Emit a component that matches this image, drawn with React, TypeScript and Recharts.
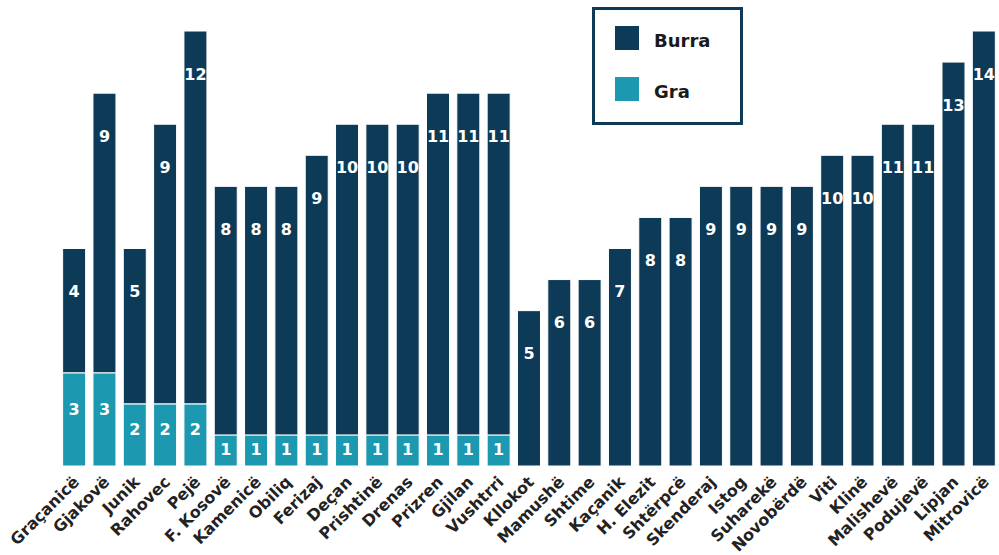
import { BarChart, Bar, XAxis, YAxis, LabelList } from "recharts";

const komunat = [
  "Graçanicë", "Gjakovë", "Junik", "Rahovec", "Pejë", "F. Kosovë", "Kamenicë", "Obiliq",
  "Ferizaj", "Deçan", "Prishtinë", "Drenas", "Prizren", "Gjilan", "Vushtrri", "Kllokot",
  "Mamushë", "Shtime", "Kaçanik", "H. Elezit", "Shtërpcë", "Skenderaj", "Istog", "Suharekë",
  "Novobërdë", "Viti", "Klinë", "Malishevë", "Podujevë", "Lipjan", "Mitrovicë",
];

const gra = [3, 3, 2, 2, 2, 1, 1, 1, 1, 1, 1, 1, 1, 1, 1, 0, 0, 0, 0, 0, 0, 0, 0, 0, 0, 0, 0, 0, 0, 0, 0];
const burra = [4, 9, 5, 9, 12, 8, 8, 8, 9, 10, 10, 10, 11, 11, 11, 5, 6, 6, 7, 8, 8, 9, 9, 9, 9, 10, 10, 11, 11, 13, 14];

const data = komunat.map((k, i) => ({ komuna: k, gra: gra[i], burra: burra[i] }));

const NAVY = "#0d3a56";
const TEAL = "#1c99b0";
const FONT = "'DejaVu Sans', Verdana, sans-serif";

const Tick = (props: any) => {
  const { x, y, payload } = props;
  return (
    <text
      x={x + 6}
      y={y + 9}
      transform={`rotate(-45, ${x + 6}, ${y + 9})`}
      textAnchor="end"
      fontFamily={FONT}
      fontWeight="bold"
      fontSize={16}
      fill="#222"
    >
      {payload.value}
    </text>
  );
};

const burraLabel = (props: any) => {
  const { x, y, width, value } = props;
  if (!value) return null;
  return (
    <text x={x + width / 2} y={y + 44} textAnchor="middle" dominantBaseline="middle"
      fontFamily={FONT} fontWeight="bold" fontSize={16} fill="#fff">
      {value}
    </text>
  );
};

const graLabel = (props: any) => {
  const { x, y, width, height, value } = props;
  if (!value) return null;
  const cy = y + height / 2 - (height - 32) * 0.15;
  return (
    <text x={x + width / 2} y={cy} textAnchor="middle" dominantBaseline="middle"
      fontFamily={FONT} fontWeight="bold" fontSize={16} fill="#fff">
      {value}
    </text>
  );
};

const LegendBox = () => (
  <div style={{
    position: "absolute", left: 592, top: 7,
    width: 151, height: 118, border: `3px solid ${NAVY}`, boxSizing: "border-box",
    background: "#fff", fontFamily: FONT, fontWeight: "bold", fontSize: 18, color: "#1a1a1a",
  }}>
    {[["Burra", NAVY, 14], ["Gra", TEAL, 65]].map(([name, color, top]) => (
      <div key={name as string} style={{ position: "absolute", left: 20, top: top as number, display: "flex", alignItems: "center" }}>
        <div style={{ width: 24, height: 24, background: color as string }} />
        <span style={{ marginLeft: 15, marginTop: 6 }}>{name}</span>
      </div>
    ))}
  </div>
);

export default function App() {
  return (
    <div style={{ position: "absolute", left: 0, top: 0, width: 999, height: 555, background: "#fff" }}>
      <BarChart
        width={999}
        height={555}
        data={data}
        margin={{ top: 31, right: 0, bottom: 0, left: 59 }}
        barCategoryGap="12%"
      >
        <XAxis dataKey="komuna" interval={0} axisLine={false} tickLine={false} height={89} tick={<Tick />} />
        <YAxis hide domain={[0, 14]} />
        <Bar dataKey="gra" stackId="a" fill={TEAL} stroke="#fff" strokeWidth={1} isAnimationActive={false} name="Gra">
          <LabelList dataKey="gra" content={graLabel} />
        </Bar>
        <Bar dataKey="burra" stackId="a" fill={NAVY} stroke="#fff" strokeWidth={1} isAnimationActive={false} name="Burra">
          <LabelList dataKey="burra" content={burraLabel} />
        </Bar>
      </BarChart>
      <LegendBox />
    </div>
  );
}
